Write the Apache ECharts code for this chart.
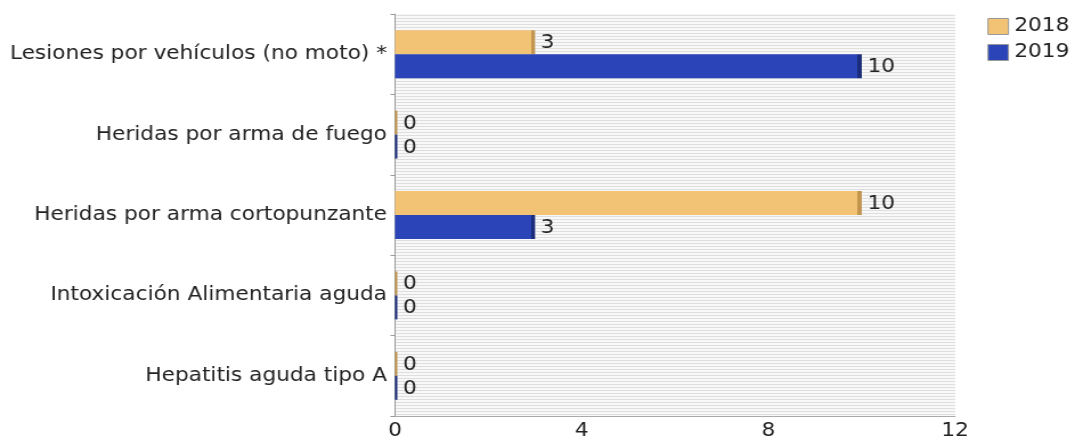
<!DOCTYPE html>
<html>
<head>
<meta charset="utf-8">
<script src="https://cdn.jsdelivr.net/npm/echarts@6/dist/echarts.min.js"></script>
<style>
  html, body { margin: 0; padding: 0; background: #fff; overflow: hidden; }
  /* the original picture is stretched sideways a little */
  #chart { width: 944px; height: 441px; transform: scaleX(1.14); transform-origin: 0 0; }
</style>
</head>
<body>
<div id="chart"></div>
<script>
// categories from top to bottom
const categories = [
  "Lesiones por vehículos (no moto) *",
  "Heridas por arma de fuego",
  "Heridas por arma cortopunzante",
  "Intoxicación Alimentaria aguda",
  "Hepatitis aguda tipo A"
];
const values2018 = [3, 0, 10, 0, 0];
const values2019 = [10, 0, 3, 0, 0];
const xTicks = [0, 4, 8, 12];

const SX = 1.14;
const gridLeft = 395 / SX;
const gridRight = (1076 - 955) / SX;
const plotW = 944 - gridLeft - gridRight;
const xMax = xTicks[xTicks.length - 1];

// striped background like the original
const stripe = document.createElement("canvas");
stripe.width = 4;
stripe.height = 3;
const sctx = stripe.getContext("2d");
sctx.fillStyle = "#f8f8f8";
sctx.fillRect(0, 0, 4, 3);
sctx.fillStyle = "#dedede";
sctx.fillRect(0, 0, 4, 1);

// bar colour with a darker strip at the right end
function edged(base, dark) {
  return function (params) {
    const len = params.value / xMax * plotW;
    if (len < 4) return dark;
    const k = 1 - 3.5 / len;
    return new echarts.graphic.LinearGradient(0, 0, 1, 0, [
      { offset: 0, color: base },
      { offset: k, color: base },
      { offset: k, color: dark },
      { offset: 1, color: dark }
    ]);
  };
}

const chart = echarts.init(document.getElementById("chart"));

const labelStyle = {
  show: true,
  position: "right",
  distance: 5,
  fontSize: 19,
  color: "#222",
  offset: [0, 1]
};

chart.setOption({
  animation: false,
  textStyle: { fontFamily: "DejaVu Sans" },
  legend: {
    orient: "vertical",
    right: 1,
    top: 12,
    icon: "rect",
    itemWidth: 18,
    itemHeight: 16,
    itemGap: 7,
    textStyle: { fontSize: 19, color: "#222", padding: [0, 0, 0, 0] },
    data: [
      { name: "2018", itemStyle: { color: "#f2c275", borderColor: "#999", borderWidth: 1 } },
      { name: "2019", itemStyle: { color: "#2b45b8", borderColor: "#999", borderWidth: 1 } }
    ]
  },
  grid: {
    left: gridLeft,
    right: gridRight,
    top: 14,
    bottom: 23,
    show: true,
    borderWidth: 0,
    backgroundColor: { image: stripe, repeat: "repeat" }
  },
  xAxis: {
    type: "value",
    min: 0,
    max: xMax,
    interval: 4,
    axisLine: { show: true, lineStyle: { color: "#aaa" } },
    axisTick: { show: false },
    splitLine: { show: false },
    axisLabel: { fontSize: 19, color: "#222", margin: 6 }
  },
  yAxis: {
    type: "category",
    inverse: true,
    data: categories,
    axisLine: { show: true, lineStyle: { color: "#999" } },
    axisTick: { show: true, length: 4, lineStyle: { color: "#999" } },
    axisLabel: { fontSize: 19, color: "#222", margin: 7 }
  },
  series: [
    {
      name: "2018",
      type: "bar",
      data: values2018,
      barWidth: 24,
      barGap: "0%",
      barMinHeight: 2,
      itemStyle: { color: edged("#f2c275", "#c29650") },
      label: labelStyle
    },
    {
      name: "2019",
      type: "bar",
      data: values2019,
      barWidth: 24,
      barGap: "0%",
      barMinHeight: 2,
      itemStyle: { color: edged("#2b45b8", "#1b2c7a") },
      label: labelStyle
    }
  ]
});
</script>
</body>
</html>
